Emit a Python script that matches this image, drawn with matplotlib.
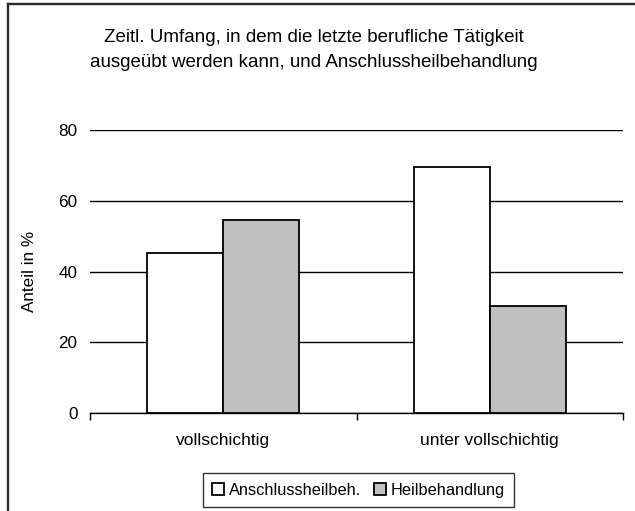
import numpy as np
import matplotlib
matplotlib.use("Agg")
import matplotlib.pyplot as plt
from matplotlib.lines import Line2D

plt.rcParams['font.family'] = ['Liberation Sans', 'DejaVu Sans']

categories = ['vollschichtig', 'unter vollschichtig']
series_names = ['Anschlussheilbeh.', 'Heilbehandlung']
anschluss = [45.2, 69.5]
heil = [54.6, 30.3]
yticks = [0, 20, 40, 60, 80]

title_lines = ['Zeitl. Umfang, in dem die letzte berufliche Tätigkeit',
               'ausgeübt werden kann, und Anschlussheilbehandlung']

W, H = 635, 511
fig = plt.figure(figsize=(W/100, H/100), dpi=100)
ax = fig.add_axes([90/W, 1-413/H, 533/W, 283/H])

x = np.arange(len(categories))
w = 0.286
ax.bar(x - w/2, anschluss, w, color='white', edgecolor='black', linewidth=1.3,
       label=series_names[0], zorder=3)
ax.bar(x + w/2, heil, w, color='#c0c0c0', edgecolor='black', linewidth=1.3,
       label=series_names[1], zorder=3)

ax.set_xlim(-0.5, 1.5)
ax.set_ylim(0, 80)
ax.set_yticks(yticks)
ax.set_yticklabels([str(t) for t in yticks], fontsize=12.3)
ax.yaxis.grid(True, color='black', linewidth=1)
ax.set_axisbelow(True)
ax.tick_params(axis='y', length=0, pad=9)

# category ticks sit between the groups
ax.set_xticks([-0.5, 0.5, 1.5])
ax.set_xticklabels([])
ax.tick_params(axis='x', direction='out', length=5, width=1, color='black')
for xi, name in zip(x, categories):
    ax.annotate(name, (xi, 0), xytext=(0, -(445-413)*0.72), textcoords='offset points',
                ha='center', va='baseline', fontsize=12.5, xycoords='data')

for s in ['top', 'right', 'left']:
    ax.spines[s].set_visible(False)
ax.spines['bottom'].set_color('black')
ax.spines['bottom'].set_linewidth(1)

ax.set_ylabel('Anteil in %', fontsize=12.3)
ax.yaxis.set_label_coords(-(90-37.5)/533, 0.5)

fig.text(314/W, 1-42/H, title_lines[0], ha='center', va='baseline', fontsize=13.5)
fig.text(314/W, 1-67/H, title_lines[1], ha='center', va='baseline', fontsize=13.5)

leg = fig.legend(loc='center', bbox_to_anchor=(358.5/W, 1-490/H), ncol=2,
                 fontsize=11.8, frameon=True, fancybox=False, shadow=False,
                 handlelength=0.7, handleheight=0.7, handletextpad=0.3,
                 columnspacing=0.8, borderpad=0.6, borderaxespad=0)
leg.get_frame().set_edgecolor('black')
leg.get_frame().set_linewidth(1)

# outer chart frame
fig.add_artist(Line2D([7.5/W, 7.5/W], [0, 1-4.5/H], transform=fig.transFigure,
                      color='#2a2a2a', linewidth=1.7))
fig.add_artist(Line2D([7.5/W, 1], [1-4.5/H, 1-4.5/H], transform=fig.transFigure,
                      color='#2a2a2a', linewidth=1.7))

fig.savefig('out.png', dpi=100)
